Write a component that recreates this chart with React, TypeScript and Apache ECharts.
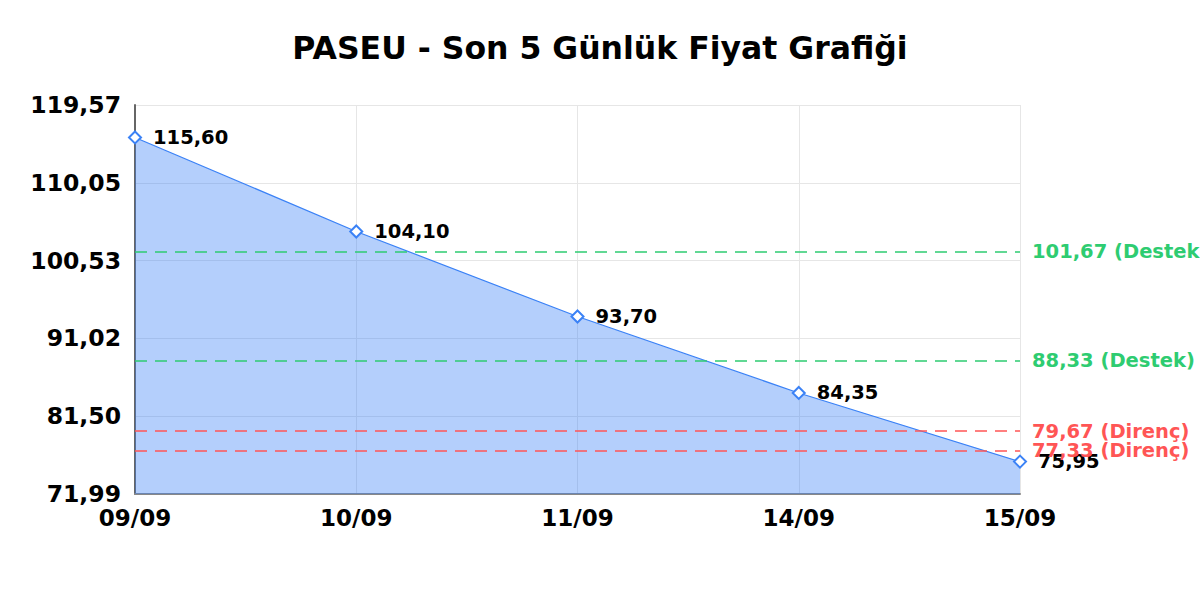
import React, { useEffect, useRef } from 'react';
import * as echarts from 'echarts';

const dates = ['09/09', '10/09', '11/09', '14/09', '15/09'];
const prices = [115.6, 104.1, 93.7, 84.35, 75.95];
const yTicks = [71.99, 81.5, 91.02, 100.53, 110.05, 119.57];
const supportLevels = [101.67, 88.33];
const resistanceLevels = [79.67, 77.33];

const fmt = (v: number) => v.toFixed(2).replace('.', ',');

const App: React.FC = () => {
  const chartRef = useRef<HTMLDivElement>(null);

  useEffect(() => {
    if (!chartRef.current) return;
    const chart = echarts.init(chartRef.current, null, { renderer: 'svg' });

    const lineLabel = (color: string, tag: string) => ({
      show: true,
      position: 'end',
      distance: 12,
      color,
      fontSize: 19.5,
      fontWeight: 'bold',
      fontFamily: 'DejaVu Sans',
      formatter: (p: any) => `${fmt(p.value)} (${tag})`
    });

    const option = {
      animation: false,
      backgroundColor: '#ffffff',
      textStyle: { fontFamily: 'DejaVu Sans' },
      title: {
        text: 'PASEU - Son 5 Günlük Fiyat Grafiği',
        left: 'center',
        top: 27,
        textStyle: { fontSize: 31.5, fontWeight: 'bold', color: '#000', fontFamily: 'DejaVu Sans' }
      },
      grid: { left: 135, right: 180, top: 105, bottom: 106 },
      xAxis: {
        type: 'category',
        data: dates,
        boundaryGap: false,
        axisLine: { lineStyle: { color: '#888', width: 2 } },
        axisTick: { show: false },
        axisLabel: { color: '#000', fontSize: 23, fontWeight: 'bold', margin: 12 },
        splitLine: { show: true, lineStyle: { color: '#e6e6e6' } }
      },
      yAxis: {
        type: 'value',
        min: yTicks[0],
        max: yTicks[yTicks.length - 1],
        axisLine: { show: true, lineStyle: { color: '#666', width: 2 } },
        axisTick: { show: false, customValues: yTicks },
        axisLabel: {
          customValues: yTicks,
          color: '#000',
          fontSize: 23.5,
          fontWeight: 'bold',
          margin: 14,
          formatter: (v: number) => fmt(v)
        },
        splitLine: { show: true, lineStyle: { color: '#e6e6e6' } }
      },
      series: [
        {
          type: 'line',
          data: prices,
          symbol: 'diamond',
          symbolSize: 12,
          itemStyle: { color: '#fff', borderColor: '#3b82f6', borderWidth: 2 },
          lineStyle: { color: '#3b82f6', width: 1.2 },
          areaStyle: { color: 'rgba(59,130,246,0.38)', opacity: 1 },
          label: {
            show: true,
            position: 'right',
            distance: 11,
            color: '#000',
            fontSize: 19.5,
            fontWeight: 'bold',
            formatter: (p: any) => fmt(p.value)
          },
          markLine: {
            silent: true,
            symbol: 'none',
            data: [
              ...supportLevels.map((v) => ({
                yAxis: v,
                lineStyle: { color: '#2ecc71', type: [12, 8], width: 1.5 },
                label: lineLabel('#2ecc71', 'Destek')
              })),
              ...resistanceLevels.map((v) => ({
                yAxis: v,
                lineStyle: { color: '#ff5555', type: [12, 8], width: 1.5 },
                label: lineLabel('#ff5555', 'Direnç')
              }))
            ]
          }
        }
      ]
    };

    chart.setOption(option as any);
    return () => chart.dispose();
  }, []);

  return (
    <div
      ref={chartRef}
      style={{ position: 'fixed', left: 0, top: 0, width: 1200, height: 600, background: '#fff' }}
    />
  );
};

export default App;
